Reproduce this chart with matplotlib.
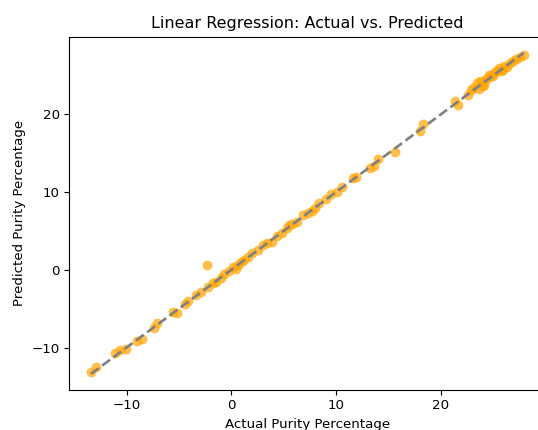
#!/usr/bin/env python3
# Linear regression: actual vs. predicted purity (scatter + identity line)

import matplotlib
matplotlib.use("Agg")

import matplotlib.pyplot as plt

# ------------------------------------------------------------
# Data
# ------------------------------------------------------------
actual = [-13.4, -12.9, -11.1, -10.6, -10.1, -9.0, -8.5, -7.4, -7.1, -5.6,
          -5.2, -4.4, -4.1, -3.4, -2.9, -2.3, -2.2, -1.8, -1.5, -0.7,
          -0.2, 0.2, 0.6, 0.9, 1.2, 1.6, 2.0, 2.5, 3.0, 3.4,
          3.9, 4.4, 4.8, 5.3, 5.8, 6.3, 6.8, 7.3, 8.0, 8.4,
          9.0, 9.5, 10.1, 10.6, 11.6, 11.9, 13.2, 13.6, 14.0, 15.6,
          18.0, 18.3, 21.3, 21.6, 22.6, 23.1, 23.4, 23.6, 23.9, 24.1,
          24.3, 24.5, 24.8, 25.0, 25.2, 25.5, 25.7, 26.0, 26.3, 26.6,
          26.9, 27.2, 27.5, 27.9, 23.7, 24.0, 24.6, 25.3, 25.9, 0.4,
          -1.0, 5.5, 7.7, 22.9]

predicted = [-13.1, -12.5, -10.7, -10.3, -10.2, -9.2, -8.9, -7.5, -6.9, -5.4,
             -5.5, -4.4, -4.0, -3.2, -2.8, 0.6, -2.2, -1.7, -1.6, -0.6,
             -0.1, 0.4, 0.6, 1.0, 1.3, 1.7, 2.1, 2.6, 3.2, 3.4,
             3.6, 4.4, 4.7, 5.4, 5.9, 6.2, 7.1, 7.3, 8.0, 8.6,
             9.1, 9.7, 10.0, 10.7, 11.8, 11.9, 13.1, 13.4, 14.2, 15.2,
             17.8, 18.7, 21.7, 21.2, 22.5, 23.4, 24.0, 23.3, 24.2, 23.8,
             24.5, 24.7, 25.1, 24.9, 25.4, 26.0, 25.5, 26.2, 26.1, 26.6,
             26.8, 27.1, 27.4, 27.6, 24.3, 23.6, 25.0, 25.6, 25.7, 0.1,
             -1.1, 5.7, 7.6, 23.1]

title = "Linear Regression: Actual vs. Predicted"
x_label = "Actual Purity Percentage"
y_label = "Predicted Purity Percentage"


def main() -> int:
    plt.rcParams["font.size"] = 9.6

    fig = plt.figure(figsize=(5.38, 4.30), dpi=100)
    # axes reaches a bit past the right edge, as in the (cropped) reference
    ax = fig.add_axes([0.1288, 0.093, 0.885, 0.8215])

    ax.scatter(actual, predicted, s=50, color="orange", alpha=0.7, linewidths=0)

    lo, hi = min(actual), max(actual)
    ax.plot([lo, hi], [lo, hi], color="gray", linestyle="--", linewidth=1.9)

    ax.set_title(title, fontsize=11.5)
    ax.set_xlabel(x_label)
    ax.set_ylabel(y_label)
    ax.set_xticks([-10, 0, 10, 20])
    ax.set_yticks([-10, 0, 10, 20])
    ax.tick_params(length=3.3)

    fig.savefig("out.png", dpi=100)
    plt.close(fig)
    return 0


if __name__ == "__main__":
    raise SystemExit(main())
